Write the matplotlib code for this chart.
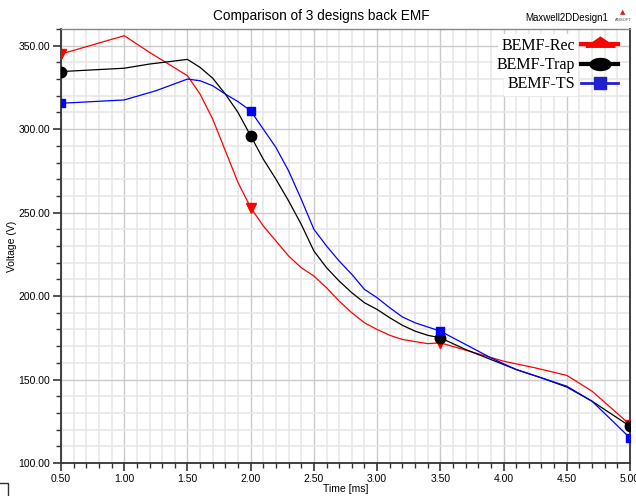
import numpy as np
import matplotlib
matplotlib.use("Agg")
import matplotlib.pyplot as plt
from matplotlib.ticker import MultipleLocator, FormatStrFormatter
from matplotlib.lines import Line2D

# ---- data ----
t_rec = [0.5, 1.0, 1.2, 1.5, 1.6, 1.7, 1.8, 1.9, 2.0, 2.1, 2.2, 2.3, 2.4, 2.5, 2.6,
         2.7, 2.8, 2.9, 3.0, 3.1, 3.2, 3.4, 3.5, 4.0, 4.25, 4.5, 4.7, 5.0]
v_rec = [345, 356, 346, 332, 321, 306, 287, 268, 253, 242, 233, 224, 217, 212, 205,
         197, 190, 184, 180, 176.5, 174, 171.5, 172, 161, 157, 152.5, 143, 123]

t_trap = [0.5, 1.0, 1.2, 1.5, 1.6, 1.7, 1.8, 1.9, 2.0, 2.1, 2.2, 2.3, 2.4, 2.5, 2.6,
          2.7, 2.8, 2.9, 3.0, 3.1, 3.2, 3.3, 3.4, 3.5, 3.7, 3.9, 4.1, 4.3, 4.5, 4.7, 5.0]
v_trap = [334.5, 336.5, 339, 341.8, 337, 330.5, 321, 310, 296, 282, 270, 257, 243, 227, 217,
          209, 202, 196, 192, 187, 182.5, 179, 176.5, 175, 168, 162, 156, 151, 145.5, 137, 122]

t_ts = [0.5, 1.0, 1.25, 1.5, 1.6, 1.7, 1.8, 1.9, 2.0, 2.1, 2.2, 2.3, 2.4, 2.5, 2.6,
        2.7, 2.8, 2.9, 3.0, 3.1, 3.2, 3.3, 3.4, 3.5, 3.7, 3.9, 4.1, 4.3, 4.5, 4.7, 5.0]
v_ts = [315.5, 317.5, 323, 330, 329, 326, 321, 316.5, 311, 300, 289, 275, 258, 240, 230,
        221, 213, 204, 199, 193, 187.5, 184, 181.5, 179, 171, 163, 156, 151, 146, 137, 115]

marker_times = [0.5, 2.0, 3.5, 5.0]
series_names = ["BEMF-Rec", "BEMF-Trap", "BEMF-TS"]
x_ticks = [0.5, 1.0, 1.5, 2.0, 2.5, 3.0, 3.5, 4.0, 4.5, 5.0]
y_ticks = [100, 150, 200, 250, 300, 350]

plt.rcParams['font.family'] = ['Liberation Sans', 'DejaVu Sans']

W, H = 636, 496
fig = plt.figure(figsize=(W / 100, H / 100), dpi=100)
ax = fig.add_axes([61 / W, 1 - 463 / H, (630 - 61) / W, (463 - 29) / H])

ax.set_xlim(0.5, 5.0)
ax.set_ylim(100, 360)
ax.set_xticks(x_ticks)
ax.set_yticks(y_ticks)
ax.xaxis.set_minor_locator(MultipleLocator(0.1))
ax.yaxis.set_minor_locator(MultipleLocator(10))
ax.xaxis.set_major_formatter(FormatStrFormatter('%.2f'))
ax.yaxis.set_major_formatter(FormatStrFormatter('%.2f'))
ax.grid(which='minor', color='#e8e8e8', lw=1.2, zorder=0)
ax.grid(which='major', color='#cacaca', lw=1.0, zorder=0)
ax.set_axisbelow(True)
ax.tick_params(which='major', direction='out', length=6, width=1.2, labelsize=7.5, color='#333333', pad=2)
ax.tick_params(which='minor', direction='out', length=3.5, width=1.0, color='#333333')
for s in ['left', 'bottom', 'right']:
    ax.spines[s].set_color('#333333')
    ax.spines[s].set_linewidth(1.3)
ax.spines['top'].set_color('#888888')
ax.spines['top'].set_linewidth(1.0)

styles = [
    (t_rec, v_rec, '#ff0000', 'v', 7),
    (t_trap, v_trap, '#000000', 'o', 7.5),
    (t_ts, v_ts, '#0000ff', 's', 5.5),
]
for t, v, c, m, ms in styles:
    t = np.asarray(t); v = np.asarray(v)
    ax.plot(t, v, color=c, lw=0.9, zorder=3)
    mask = np.isin(np.round(t, 3), marker_times)
    ax.plot(t[mask], v[mask], ls='none', marker=m, color=c, ms=ms, zorder=4)

flat_tri = [(-1.6, -0.3), (1.6, -0.3), (0, 0.8), (-1.6, -0.3)]
ang = np.linspace(0, 2 * np.pi, 40)
ellipse = list(zip(1.3 * np.cos(ang), 0.75 * np.sin(ang)))
handles = [
    Line2D([], [], color='#ff0000', lw=3, marker=flat_tri, ms=21),
    Line2D([], [], color='#000000', lw=3, marker=ellipse, ms=15),
    Line2D([], [], color='#2020cc', lw=2, marker='s', ms=8),
]
leg = fig.legend(handles, series_names, loc='upper right',
                 bbox_to_anchor=(618 / W, 1 - 38 / H), frameon=False,
                 markerfirst=False, borderpad=0, borderaxespad=0,
                 handlelength=2.3, handletextpad=0.4, labelspacing=0.2,
                 prop={'family': 'Liberation Serif', 'size': 11.5})
for txt in leg.get_texts():
    txt.set_bbox(dict(facecolor='white', edgecolor='none', pad=2.5))

fig.text(321 / W, 1 - 16 / H, "Comparison of 3 designs back EMF", ha='center', va='center', fontsize=9.8)
fig.text(567 / W, 1 - 18 / H, "Maxwell2DDesign1", ha='center', va='center', fontsize=7)
fig.text(623 / W, 1 - 12 / H, "\u25b2", ha='center', va='center', fontsize=5, color='#cc2222',
         family='DejaVu Sans')
fig.text(623 / W, 1 - 20 / H, "ANSOFT", ha='center', va='center', fontsize=3, color='#444444')

ax.set_xlabel("Time [ms]", fontsize=7.5, labelpad=0)
ax.set_ylabel("Voltage (V)", fontsize=7.5, labelpad=1)

# corner mark bottom-left
fig.add_artist(Line2D([0, 8 / W, 8 / W], [1 - 483 / H, 1 - 483 / H, 0], transform=fig.transFigure,
                      color='#333333', lw=1.0))

fig.savefig("out.png", dpi=100)
